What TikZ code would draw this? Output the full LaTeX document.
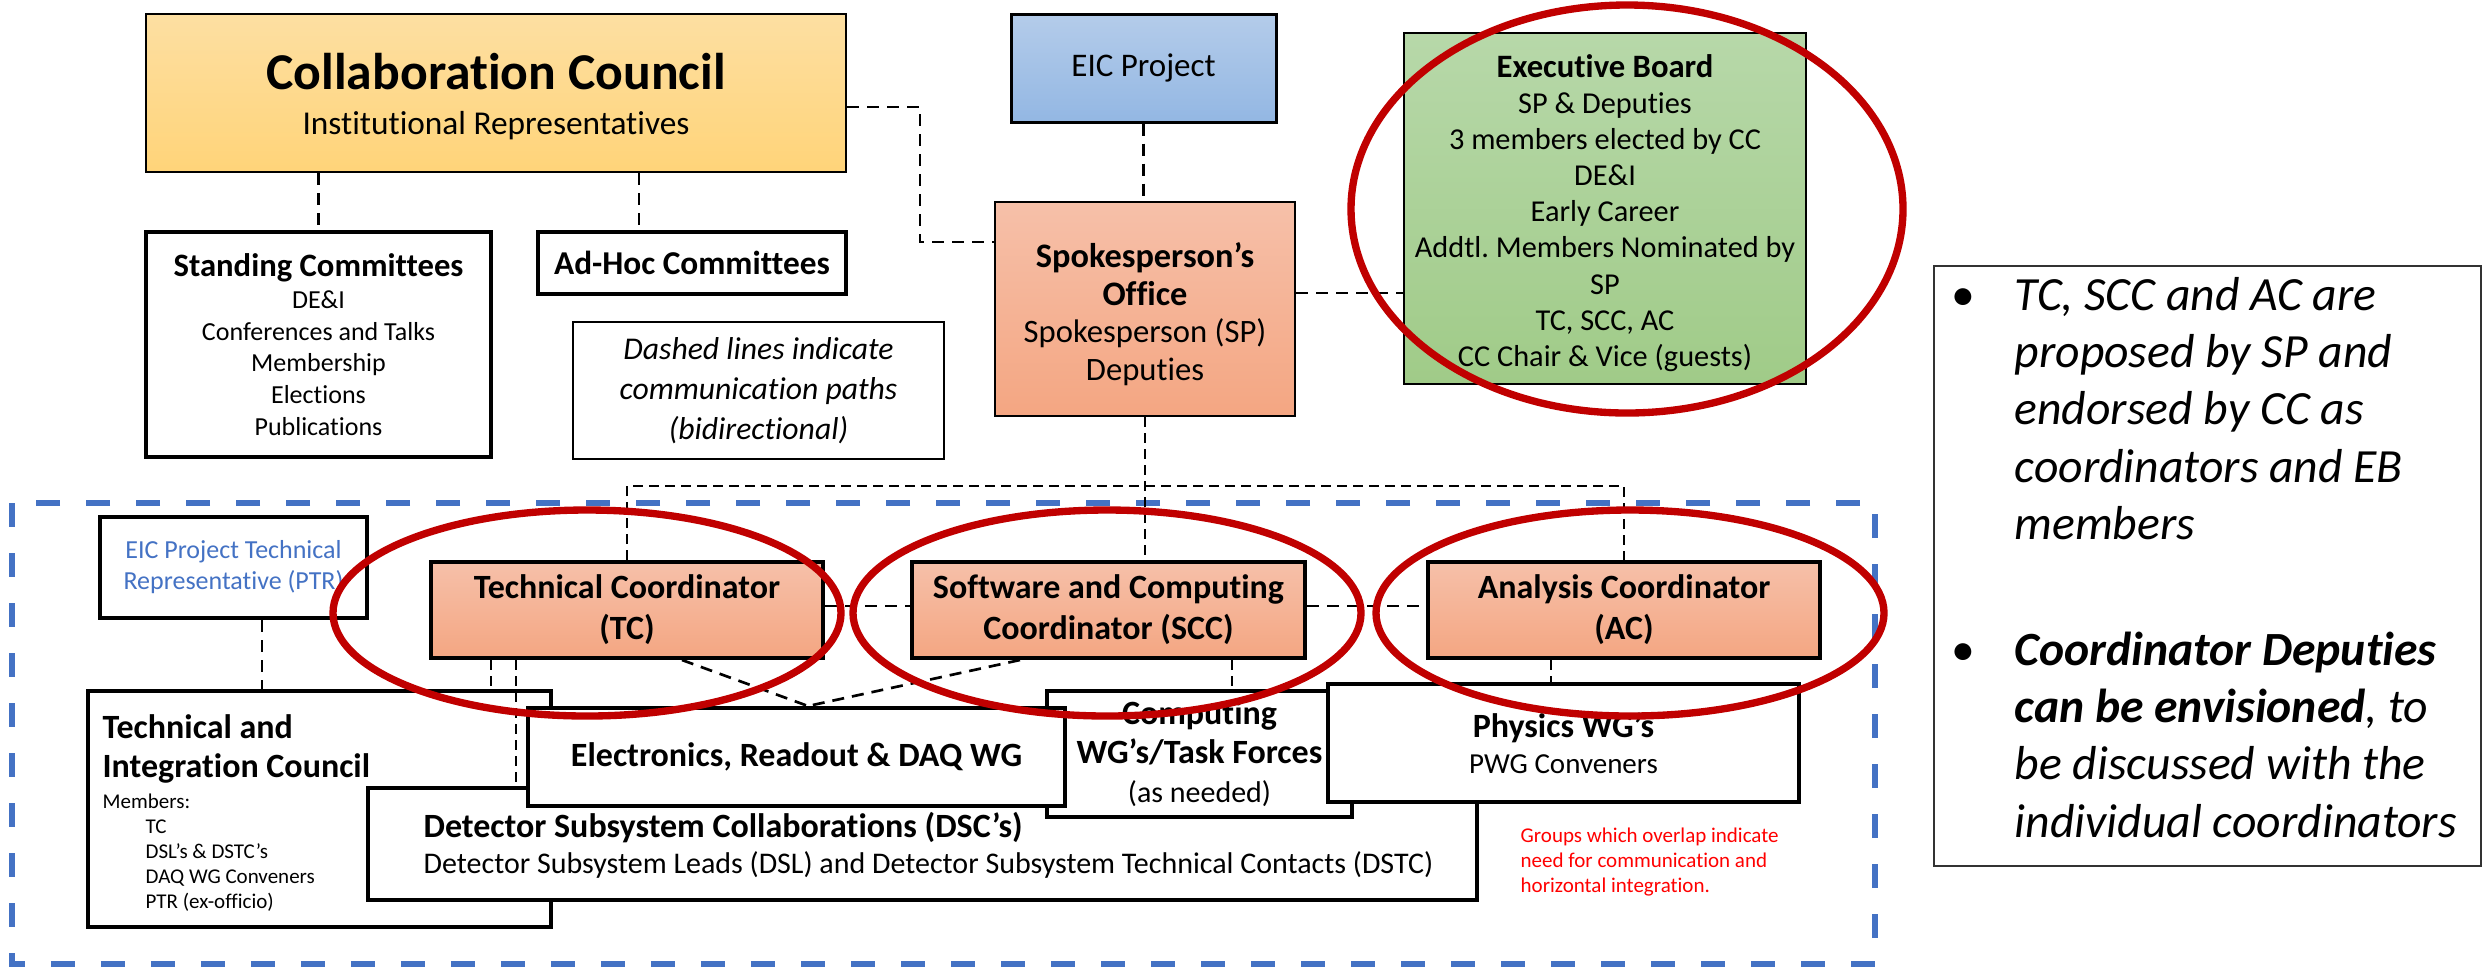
\documentclass[tikz,border=0pt]{standalone}
\usepackage{fontspec}
\setmainfont{Carlito}[Ligatures={NoCommon}]
\frenchspacing
\newcommand{\myfs}[2]{\fontsize{#1}{#2}\selectfont}
\definecolor{ccT}{HTML}{FDDFA2}
\definecolor{ccB}{HTML}{FFD479}
\definecolor{eicT}{HTML}{B4CCEA}
\definecolor{eicB}{HTML}{93B7E3}
\definecolor{salT}{HTML}{F6C0A9}
\definecolor{salB}{HTML}{F4A682}
\definecolor{grT}{HTML}{B7D8A9}
\definecolor{grB}{HTML}{A0CB88}
\definecolor{ellred}{HTML}{C00000}
\definecolor{blueD}{HTML}{4472C4}
\definecolor{redT}{HTML}{FF0000}
\tikzset{
  sz/.style 2 args={minimum width=#1*0.3pt, minimum height=#2*0.3pt},
  bx/.style={draw, line width=1.2pt, fill=white, align=center, inner sep=0pt},
  conn/.style={line width=0.8pt, dash pattern=on 3.6pt off 2.4pt},
  thinconn/.style={line width=0.6pt, dash pattern=on 3pt off 1.8pt},
  ell/.style={draw=ellred, line width=2.2pt},
  bluebox/.style={draw=blueD, line width=1.8pt, dash pattern=on 7.2pt off 7.8pt},
  txt/.style={inner sep=0pt, anchor=base west},
}
\begin{document}
\begin{tikzpicture}[x=0.3pt,y=-0.3pt]
\useasboundingbox (0,0) rectangle (2484,969);
\fill[white] (0,0) rectangle (2484,969);

% blue dashed region
\draw[bluebox] (12,503) rectangle (1875,964);

% top part
\node[bx, line width=0.6pt, top color=ccT, bottom color=ccB, sz={700}{158}, font=\myfs{10}{13.5}] (cc) at (496,93)
  {{\myfs{15.5}{18}\bfseries\rule{0pt}{13pt}Collaboration Council}\\Institutional Representatives};
\node[bx, sz={345}{225}, font=\myfs{7.8}{9.5}] (std) at (318.5,344.5)
  {{\myfs{9.8}{11}\bfseries Standing Committees}\\DE\&I\\Conferences and Talks\\Membership\\Elections\\Publications};
\node[bx, sz={308}{62}, font=\myfs{10}{11}\bfseries] (adhoc) at (692,263) {Ad-Hoc Committees};
\node[bx, line width=0.7pt, sz={371}{137}, font=\myfs{9.5}{12}\itshape] (note) at (758.5,390.5)
  {Dashed lines indicate\\communication paths\\(bidirectional)};
\node[bx, line width=0.9pt, top color=eicT, bottom color=eicB, sz={265}{108}, font=\myfs{9.9}{11}] (eic) at (1143.5,68) {EIC Project};
\node[bx, line width=0.6pt, top color=salT, bottom color=salB, sz={300}{214}, font=\myfs{9.8}{11.3}] (so) at (1145,309)
  {{\myfs{10.3}{12}\bfseries\rule{0pt}{10.5pt}Spokesperson’s}\\{\myfs{10.3}{12}\bfseries Office}\\Spokesperson (SP)\\Deputies};
\node[bx, line width=0.6pt, top color=grT, bottom color=grB, sz={402}{351}, font=\myfs{9.1}{10.85}] (eb) at (1605,208.5)
  {{\myfs{9.8}{10.85}\bfseries\rule{0pt}{9.5pt}Executive Board}\\SP \& Deputies\\3 members elected by CC\\DE\&I\\Early Career\\Addtl. Members Nominated by\\SP\\TC, SCC, AC\\CC Chair \& Vice (guests)};

% right note
\node[draw=black!80, line width=0.6pt, sz={547}{600}, inner sep=0pt] (rnote) at (2207.5,566) {};
\node[txt, anchor=base, font=\myfs{14.3}{17.2}] (b1) at (1963,310) {•};
\node[txt, anchor=base, font=\myfs{14.3}{17.2}] (b2) at (1963,665) {•};
\node[txt, font=\myfs{14.3}{17.2}\itshape] (rtext) at (2014,310)
  {\begin{tabular}[t]{@{}l@{}}TC, SCC and AC are\\proposed by SP and\\endorsed by CC as\\coordinators and EB\\members\\[20.5pt]\textbf{Coordinator Deputies}\\\textbf{can be envisioned}, to\\be discussed with the\\individual coordinators\end{tabular}};

% lower part boxes
\node[bx, sz={267}{101}, font=\myfs{7.8}{9.3}, text=blueD] (ptr) at (233.5,567.5) {EIC Project Technical\\Representative (PTR)};
\node[bx, top color=salT, bottom color=salB, sz={392}{96}, font=\myfs{10.2}{12.3}\bfseries] (tc) at (627,610) {Technical Coordinator\\(TC)};
\node[bx, top color=salT, bottom color=salB, sz={393}{96}, font=\myfs{10.2}{12.3}\bfseries] (scc) at (1108.5,610) {Software and Computing\\Coordinator (SCC)};
\node[bx, top color=salT, bottom color=salB, sz={392}{96}, font=\myfs{10.2}{12.3}\bfseries] (ac) at (1624,610) {Analysis Coordinator\\(AC)};

\node[bx, sz={463}{236}] (tic) at (319.5,809) {};
\node[txt, font=\myfs{10.2}{11.7}\bfseries] (tict) at (102,738)
  {\begin{tabular}[t]{@{}l@{}}Technical and\\Integration Council\end{tabular}};
\node[txt, font=\myfs{6.3}{7.5}] (ticm) at (102,808)
  {\begin{tabular}[t]{@{}l@{}}Members:\\\hspace*{12.9pt}TC\\\hspace*{12.9pt}DSL’s \& DSTC’s\\\hspace*{12.9pt}DAQ WG Conveners\\\hspace*{12.9pt}PTR (ex-officio)\end{tabular}};

\node[bx, sz={1109}{112}] (dsc) at (922.5,844) {};
\node[txt, font=\myfs{9}{10.8}] (dsct) at (423,837)
  {\begin{tabular}[t]{@{}l@{}}{\myfs{10.2}{10.8}\bfseries Detector Subsystem Collaborations (DSC’s)}\\Detector Subsystem Leads (DSL) and Detector Subsystem Technical Contacts (DSTC)\end{tabular}};
\node[bx, sz={305}{126}, font=\myfs{9}{11.7}] (comp) at (1199.5,754)
  {{\myfs{10.2}{11.7}\bfseries Computing}\\{\myfs{10.2}{11.7}\bfseries WG’s/Task Forces}\\(as needed)};
\node[bx, sz={537}{98}, font=\myfs{10.2}{12}\bfseries] (ele) at (796.5,757) {Electronics, Readout \& DAQ WG};
\node[bx, sz={471}{118}, font=\myfs{8.7}{10.8}] (phys) at (1563.5,743)
  {{\myfs{10.2}{10.8}\bfseries Physics WG’s}\\PWG Conveners};

\node[txt, font=\myfs{6.3}{7.5}, text=redT] (redn) at (1520,842)
  {\begin{tabular}[t]{@{}l@{}}Groups which overlap indicate\\need for communication and\\horizontal integration.\end{tabular}};

% connectors
\draw[conn] (cc.south -| std.north) -- (std.north);
\draw[conn] (cc.south -| 639,0) -- (adhoc.north -| 639,0);
\draw[conn] (cc.east |- 0,107) -- (920,107) |- (so.west |- 0,242);
\draw[conn] (eic.south) -- (eic.south |- so.north);
\draw[conn] (so.east |- 0,293) -- (eb.west |- 0,293);
\draw[thinconn] (tc.north) -- (tc.north |- 0,486) -- (ac.north |- 0,486) -- (ac.north);
\draw[thinconn] (so.south) -- (so.south |- scc.north);
\draw[conn] (tc.east |- 0,606) -- (scc.west |- 0,606);
\draw[conn] (scc.east |- 0,606) -- (ac.west |- 0,606);
\draw[conn] (ptr.south -| 262,0) -- (tic.north -| 262,0);
\draw[thinconn] (tc.south -| 491,0) -- (tic.north -| 491,0);
\draw[thinconn] (tc.south -| 516,0) -- (dsc.north -| 516,0);
\coordinate (em) at (ele.north -| 808,0);
\draw[conn] (tc.south -| 682,0) -- (em);
\draw[conn] (scc.south -| 1020,0) -- (em);
\draw[thinconn] (scc.south -| 1232,0) -- (comp.north -| 1232,0);
\draw[thinconn] (ac.south -| 1551,0) -- (phys.north -| 1551,0);

% red ellipses
\draw[ell] (1627,209) ellipse [x radius=276, y radius=204];
\draw[ell] (587,613) ellipse [x radius=254, y radius=103];
\draw[ell] (1107,613) ellipse [x radius=254, y radius=103];
\draw[ell] (1630,613) ellipse [x radius=254, y radius=103];
\end{tikzpicture}
\end{document}
